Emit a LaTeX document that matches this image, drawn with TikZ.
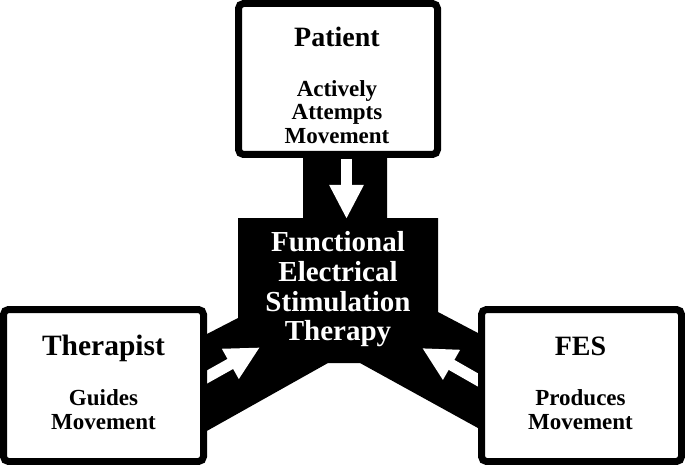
\documentclass[tikz,border=0pt]{standalone}
\usepackage{fontspec}
\setmainfont{Liberation Serif}
\usetikzlibrary{arrows.meta}
\tikzset{
  unitbox/.style={draw=black,line width=7pt,fill=white,rounded corners=5pt,inner sep=0pt,minimum width=200pt,minimum height=152pt},
  head/.style={anchor=base,inner sep=0pt,font=\bfseries\fontsize{28}{28}\selectfont},
  sub/.style={anchor=base,inner sep=0pt,font=\bfseries\fontsize{23}{23}\selectfont},
  core/.style={anchor=base,inner sep=0pt,text=white,font=\bfseries\fontsize{29}{29}\selectfont},
  flow/.style={draw=white,line width=11.5pt,-{Triangle[width=32pt,length=34pt]}}
}
\begin{document}
\begin{tikzpicture}[x=1pt,y=-1pt]
\useasboundingbox(0,0)rectangle(685,465);
% black bands and centre block
\fill[black](303,150)--(387,150)--(387,218)--(438,218)--(438,312)--(485,336.7)--(485,431.9)
  --(360,363)--(328,363)--(200,434.8)--(200,337.6)--(238,318)--(238,218)--(303,218)--cycle;
% arrow ends
\coordinate(pat tail)at(346.5,159);
\coordinate(pat tip)at(346.5,219);
\coordinate(ther tail)at(200,380.9);
\coordinate(ther tip)at(260,347.3);
\coordinate(fes tail)at(485,384);
\coordinate(fes tip)at(422,348);
\draw[flow](pat tail)--(pat tip);
\draw[flow](ther tail)--(ther tip);
\draw[flow](fes tail)--(fes tip);
% boxes
\node[unitbox,minimum width=199pt,minimum height=151pt](patient)at(338,79){};
\node[unitbox](therapist)at(103.5,385.5){};
\node[unitbox](fes)at(581.5,385.5){};
% texts
\node[head](patient head)at(337,47){Patient};
\node[sub](patient l1)at(337,97){Actively};
\node[sub](patient l2)at(337,120){Attempts};
\node[sub](patient l3)at(337,144){Movement};
\node[head,font=\bfseries\fontsize{29.5}{29.5}\selectfont](therapist head)at(103.5,355){Therapist};
\node[sub](therapist l1)at(103.5,405){Guides};
\node[sub](therapist l2)at(103.5,429){Movement};
\node[head](fes head)at(580.5,355){FES};
\node[sub](fes l1)at(580.5,405){Produces};
\node[sub](fes l2)at(580.5,429){Movement};
\node[core](core l1)at(338,251){Functional};
\node[core](core l2)at(338,281){Electrical};
\node[core](core l3)at(338,311){Stimulation};
\node[core](core l4)at(338,340){Therapy};
\end{tikzpicture}
\end{document}
